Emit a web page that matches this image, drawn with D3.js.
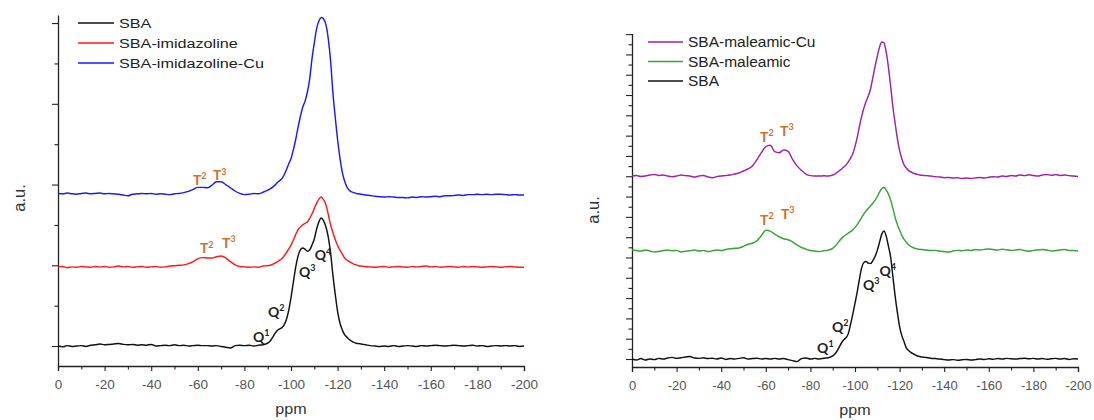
<!DOCTYPE html>
<html><head><meta charset="utf-8">
<script src="https://cdn.jsdelivr.net/npm/d3@7"></script>
<style>body{margin:0;background:#fff}svg{display:block}</style>
</head><body>
<svg id="c" width="1094" height="420"></svg>
<script>
// chemical shift grid (ppm)
const ppm = [0,-2,-4,-6,-8,-10,-12,-14,-16,-18,-20,-22,-24,-26,-28,-30,-32,-34,-36,-38,-40,-42,-44,-46,-48,-50,-52,-54,-56,-58,-60,-62,-64,-66,-68,-70,-72,-74,-76,-78,-80,-82,-84,-86,-88,
-90,-91,-92,-93,-94,-95,-96,-97,-98,-99,-100,-101,-102,-103,-104,-105,-106,-107,-108,-109,-110,-111,-112,-113,-114,-115,-116,-117,-118,-119,-120,-121,-122,-123,-124,-125,-126,-127,-128,-129,-130,
-132,-134,-136,-138,-140,-142,-144,-146,-148,-150,-152,-154,-156,-158,-160,-162,-164,-166,-168,-170,-172,-174,-176,-178,-180,-182,-184,-186,-188,-190,-192,-194,-196,-198,-200];

// Left panel intensities (a.u., above own baseline)
const sbaL = [0.00,-0.02,0.01,-0.01,0.00,0.01,-0.01,0.02,0.03,0.05,0.03,0.04,0.05,0.06,0.04,0.03,0.04,0.02,0.03,0.02,0.04,0.00,0.01,0.02,0.01,0.03,0.01,0.02,0.00,0.01,0.02,0.01,0.01,0.00,0.01,-0.01,-0.03,-0.05,0.01,0.02,0.01,0.02,0.00,0.02,0.03,
0.07,0.12,0.20,0.30,0.38,0.42,0.45,0.52,0.65,0.88,1.20,1.58,1.95,2.22,2.38,2.43,2.40,2.35,2.38,2.50,2.65,2.90,3.08,3.17,3.10,2.95,2.70,2.30,1.75,1.28,0.85,0.57,0.40,0.28,0.22,0.16,0.12,0.09,0.07,0.06,0.05,
0.03,0.01,0.00,-0.01,0.00,-0.01,0.01,-0.01,0.00,0.01,0.00,-0.01,0.01,0.00,0.01,0.02,0.01,0.00,0.01,0.02,0.01,0.00,0.01,0.02,0.00,0.01,-0.01,0.00,0.01,0.00,0.01,0.00,0.01,-0.01,0.00];
const imidL = [0.00,0.01,-0.02,0.00,-0.01,0.01,0.00,-0.01,0.01,0.00,0.01,-0.01,0.00,0.02,0.00,0.01,-0.01,0.00,0.01,-0.01,0.00,0.01,-0.01,0.00,0.02,0.03,0.04,0.05,0.08,0.13,0.20,0.23,0.22,0.22,0.25,0.27,0.22,0.13,0.05,0.01,0.00,-0.01,0.00,-0.01,0.02,
0.03,0.04,0.06,0.09,0.12,0.16,0.20,0.27,0.35,0.44,0.54,0.66,0.80,0.92,0.99,1.04,1.08,1.11,1.20,1.31,1.45,1.58,1.68,1.73,1.66,1.54,1.30,1.04,0.85,0.67,0.53,0.42,0.32,0.22,0.17,0.13,0.10,0.07,0.05,0.03,0.02,
0.01,0.00,-0.01,0.00,0.01,-0.01,0.00,0.01,0.00,-0.01,0.01,0.00,0.01,0.02,0.00,0.01,-0.01,0.00,0.01,0.00,-0.01,0.01,0.00,0.01,0.00,-0.01,0.00,0.01,0.00,-0.01,0.00,0.01,0.00,-0.01,-0.01];
const imidCuL = [0.02,0.01,0.03,0.01,0.00,0.02,0.03,0.01,0.02,0.03,0.01,0.02,0.01,0.00,-0.02,-0.04,0.00,0.01,0.02,0.01,0.02,0.00,0.01,0.00,-0.01,0.01,0.02,0.04,0.07,0.12,0.17,0.17,0.16,0.22,0.31,0.31,0.24,0.16,0.08,0.02,-0.01,0.00,0.02,0.01,0.05,
0.10,0.13,0.17,0.22,0.28,0.33,0.38,0.47,0.60,0.75,0.88,1.10,1.35,1.65,1.92,2.15,2.30,2.52,2.85,3.35,3.75,4.10,4.30,4.38,4.34,4.20,3.85,3.30,2.50,1.90,1.35,0.90,0.55,0.33,0.18,0.10,0.06,0.04,0.02,0.01,0.00,
-0.02,-0.03,-0.05,-0.06,-0.07,-0.06,-0.07,-0.08,-0.08,-0.09,-0.07,-0.08,-0.06,-0.07,-0.06,-0.05,-0.06,-0.04,-0.04,-0.03,-0.02,-0.03,-0.01,-0.01,0.00,-0.01,0.00,-0.01,0.00,0.00,-0.01,-0.02,-0.01,-0.02,-0.02];
const offsetsL = [0, 1.96, 3.76];

// Right panel intensities
const sbaR = [0.0,-0.05,0.02,-0.05,0.0,-0.03,0.03,0.0,0.05,0.08,0.03,0.06,0.1,0.12,0.05,0.03,0.06,0.02,0.04,0.0,0.05,-0.02,0.02,0.0,0.03,0.06,0.0,0.02,0.04,0.0,0.02,0.0,0.03,0.0,0.02,-0.03,-0.08,-0.13,0.02,0.05,0.0,0.03,0.0,0.04,0.06,
0.15,0.25,0.40,0.60,0.80,0.95,1.05,1.25,1.70,2.20,2.75,3.30,3.95,4.50,4.75,4.80,4.72,4.70,4.85,5.05,5.35,5.75,6.15,6.30,6.05,5.55,5.00,4.05,3.10,2.30,1.60,1.15,0.85,0.55,0.42,0.33,0.26,0.20,0.15,0.12,0.10,
0.07,0.04,0.02,0.0,-0.03,-0.05,-0.03,-0.06,-0.04,-0.02,-0.05,-0.03,0.0,-0.02,0.01,-0.01,0.02,0.0,0.03,0.01,0.0,0.02,0.04,0.01,0.03,0.0,0.02,-0.01,0.01,0.03,0.0,0.02,-0.02,0.01,0.0];
const maleR = [0.0,-0.03,-0.05,0.0,-0.05,-0.1,-0.08,-0.03,0.0,-0.04,-0.02,-0.1,-0.06,-0.04,0.0,-0.05,-0.02,-0.08,-0.04,0.0,-0.03,0.02,0.06,0.08,0.10,0.18,0.28,0.33,0.45,0.70,0.97,0.93,0.78,0.65,0.55,0.50,0.40,0.25,0.12,0.04,-0.03,-0.06,-0.08,-0.04,-0.01,
0.08,0.18,0.30,0.45,0.57,0.67,0.75,0.83,0.90,0.99,1.10,1.25,1.42,1.60,1.78,1.92,2.05,2.18,2.30,2.45,2.62,2.85,3.02,3.08,2.95,2.75,2.45,2.05,1.60,1.25,0.98,0.72,0.52,0.38,0.26,0.17,0.12,0.08,0.05,0.03,0.02,
0.0,-0.03,-0.02,-0.05,-0.08,-0.1,-0.05,-0.02,-0.04,0.0,-0.03,0.02,0.0,0.03,0.05,0.02,0.0,0.03,0.01,-0.02,0.0,0.02,-0.03,-0.06,-0.02,0.0,0.02,0.0,-0.05,-0.03,0.0,0.02,-0.02,-0.03,-0.05];
const maleCuR = [0.0,0.03,-0.02,0.0,0.05,0.08,0.03,0.05,0.0,-0.03,0.0,0.05,0.02,0.0,-0.05,0.0,0.03,-0.04,-0.08,-0.03,0.0,0.02,0.05,0.10,0.15,0.25,0.35,0.50,0.80,1.15,1.45,1.52,1.20,1.15,1.28,1.22,0.82,0.50,0.28,0.10,0.02,0.0,0.0,0.01,0.0,
0.05,0.10,0.18,0.27,0.35,0.45,0.55,0.70,0.88,1.10,1.45,1.90,2.45,2.95,3.35,3.68,3.95,4.30,4.85,5.40,5.90,6.35,6.60,6.55,6.10,5.35,4.40,3.40,2.60,1.85,1.25,0.85,0.55,0.40,0.28,0.20,0.15,0.11,0.08,0.05,0.04,
0.02,0.0,-0.03,-0.05,-0.08,-0.07,-0.1,-0.08,-0.12,-0.1,-0.12,-0.09,-0.07,-0.1,-0.06,-0.03,-0.05,0.0,-0.02,0.03,0.0,0.05,0.02,0.06,0.03,0.0,0.05,0.08,0.04,0.07,0.03,0.05,0.02,0.0,-0.02];
const offsetsR = [0, 5.37, 9.01];

// ticks
const xTicks = [0,-10,-20,-30,-40,-50,-60,-70,-80,-90,-100,-110,-120,-130,-140,-150,-160,-170,-180,-190,-200];
const xTickLabels = [0,-20,-40,-60,-80,-100,-120,-140,-160,-180,-200];
const yTicksL = [0,1,2,3,4,5,6,7,8];
const yTicksR = [0,0.5,1,1.5,2,2.5,3,3.5,4,4.5,5,5.5,6,6.5,7,7.5,8,8.5,9,9.5,10,10.5,11,11.5,12,12.5,13,13.5,14,14.5,15,15.5,16];

// legends
const namesL = ["SBA","SBA-imidazoline","SBA-imidazoline-Cu"];
const colorsL = ["#111111","#ff1a1a","#1a1aff"];
const namesR = ["SBA-maleamic-Cu","SBA-maleamic","SBA"];
const colorsR = ["#a020a8","#35a535","#111111"];

// peak labels: [main, sup, ppm, a.u.]
const annL = [["T","2",-57.9,3.99,"o"],["T","3",-66.5,4.11,"o"],["T","2",-60.9,2.30,"o"],["T","3",-70.4,2.43,"o"],
  ["Q","1",-83.7,0.10,"k"],["Q","2",-90.1,0.72,"k"],["Q","3",-103.4,1.71,"k"],["Q","4",-110.2,2.12,"k"]];
const annR = [["T","2",-57.4,10.69,"o"],["T","3",-66.4,10.99,"o"],["T","2",-57.4,6.6,"o"],["T","3",-66.8,6.9,"o"],
  ["Q","1",-83.0,0.3,"k"],["Q","2",-89.7,1.33,"k"],["Q","3",-103.6,3.4,"k"],["Q","4",-111.0,4.1,"k"]];

const svg = d3.select("#c");
const FONT = "'Liberation Sans', Arial, sans-serif";

function panel(cfg){
  const x = d3.scaleLinear().domain([0,-200]).range([cfg.x0, cfg.x1]);
  const y = d3.scaleLinear().domain(cfg.yDom).range([cfg.yBot, cfg.yTop]);
  const g = svg.append("g");

  // x axis
  const xa = d3.axisBottom(x).tickValues(xTicks).tickSizeOuter(0).tickSize(5)
    .tickFormat(d => xTickLabels.includes(d) ? String(d) : "");
  const gx = g.append("g").attr("transform", `translate(0,${cfg.yBot})`).call(xa);
  gx.select(".domain").attr("stroke","#222").attr("stroke-width",1.3);
  gx.selectAll(".tick line").attr("stroke","#222").attr("stroke-width",1.1)
    .attr("y2", d => xTickLabels.includes(d) ? 5 : 3.5);
  gx.selectAll(".tick text").attr("y",14).attr("fill","#555").attr("font-size","12px")
    .attr("font-family",FONT).attr("transform",`scale(${cfg.tickStretch},1)`);

  // y axis
  const ya = d3.axisLeft(y).tickValues(cfg.yTicks).tickSizeOuter(0).tickFormat("");
  const gy = g.append("g").attr("transform", `translate(${cfg.x0},0)`).call(ya);
  gy.select(".domain").attr("stroke","#222").attr("stroke-width",1.3);
  gy.selectAll(".tick line").attr("stroke","#222").attr("stroke-width",1.1)
    .attr("x2", d => cfg.isMajor(d) ? -6 : -3.5);

  // curves
  const line = off => d3.line().x((d,i)=>x(ppm[i])).y(d=>y(d+off)).curve(d3.curveMonotoneX);
  cfg.series.forEach((s,k)=>{
    g.append("path").datum(s.values).attr("fill","none").attr("stroke",s.color)
      .attr("stroke-width",1.45).attr("stroke-linejoin","round").attr("d", line(s.offset));
  });

  // labels
  g.append("text").attr("font-family",FONT).attr("font-size","14px").attr("fill","#333")
    .attr("text-anchor","middle")
    .attr("transform",`translate(${x(-100)},${cfg.yBot+48}) scale(1.15,1)`).text("ppm");
  g.append("text").attr("font-family",FONT).attr("font-size","16.5px").attr("fill","#333")
    .attr("text-anchor","middle")
    .attr("transform",`translate(${cfg.auX},${cfg.auY}) rotate(-90)`).text("a.u.");

  // legend
  cfg.legend.forEach((l,i)=>{
    const ly = cfg.legY + i*cfg.legDy;
    g.append("line").attr("x1",cfg.legX).attr("x2",cfg.legX+cfg.legW).attr("y1",ly).attr("y2",ly)
      .attr("stroke",l.color).attr("stroke-width",1.4);
    g.append("text").attr("font-family",FONT).attr("font-size",cfg.legFs+"px").attr("fill","#222")
      .attr("transform",`translate(${cfg.legX+cfg.legW+5},${ly+5}) scale(${cfg.legStretch},1)`).text(l.name);
  });

  // annotations
  cfg.ann.forEach(a=>{
    const t = g.append("text").attr("x", x(a[2])).attr("y", y(a[3]))
      .attr("font-family","Lato, 'Open Sans', sans-serif").attr("font-weight","bold")
      .attr("font-size","14px").attr("fill", a[4]==="o" ? "#d0702a" : "#222");
    t.append("tspan").text(a[0]);
    t.append("tspan").attr("dy",-5.5).attr("font-size","9px").text(a[1]);
  });
}

panel({
  x0:58, x1:524, yTop:15, yBot:366, yDom:[-0.495, 8.2], yTicks:yTicksL,
  isMajor: d => d % 2 === 0, tickStretch:1.13,
  series:[{values:sbaL,color:colorsL[0],offset:offsetsL[0]},
          {values:imidL,color:colorsL[1],offset:offsetsL[1]},
          {values:imidCuL,color:colorsL[2],offset:offsetsL[2]}],
  legend: namesL.map((n,i)=>({name:n,color:colorsL[i]})),
  legX:78, legW:36, legY:23, legDy:20, legFs:13.5, legStretch:1.2,
  auX:25, auY:198, ann:annL
});
panel({
  x0:632, x1:1078, yTop:33.5, yBot:367, yDom:[-0.394, 16.03], yTicks:yTicksR,
  isMajor: d => Number.isInteger(d), tickStretch:1.08,
  series:[{values:sbaR,color:colorsR[2],offset:offsetsR[0]},
          {values:maleR,color:colorsR[1],offset:offsetsR[1]},
          {values:maleCuR,color:colorsR[0],offset:offsetsR[2]}],
  legend: namesR.map((n,i)=>({name:n,color:colorsR[i]})),
  legX:648, legW:35, legY:42, legDy:19.5, legFs:14.5, legStretch:1.07,
  auX:599, auY:210, ann:annR
});
</script>
</body></html>
